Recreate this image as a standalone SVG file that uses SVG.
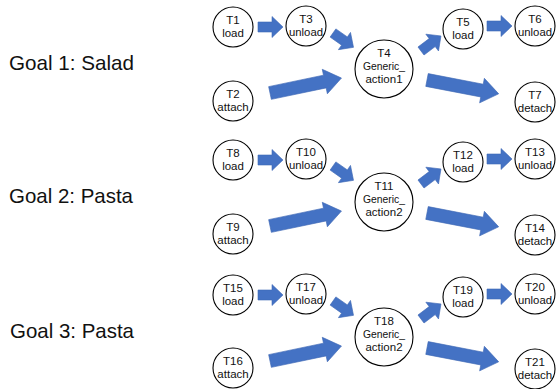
<svg xmlns="http://www.w3.org/2000/svg" xmlns:xlink="http://www.w3.org/1999/xlink" width="556" height="389" viewBox="0 0 556 389">
<style>
.node circle{fill:#fff;stroke:#000;stroke-width:1.1}
.node text{font-family:"Liberation Sans",Arial,sans-serif;font-size:11.5px;fill:#111;text-anchor:middle}
.goal{font-family:"Liberation Sans",Arial,sans-serif;font-size:21px;fill:#111}
.arr{fill:#4472C4;stroke:#3E68B5;stroke-width:0.6}
</style>
<defs>
<path id="sa" class="arr" d="M0,-5 H14 V-10.5 L25,0 L14,10.5 V5 H0 Z"/>
<path id="la" class="arr" d="M0,-6.5 H56 V-12.5 L73,0 L56,12.5 V6.5 H0 Z"/>
</defs>
<rect width="556" height="389" fill="#fff"/>

<g id="labels">
<text class="goal" x="9" y="70" textLength="125" lengthAdjust="spacingAndGlyphs">Goal 1: Salad</text>
<text class="goal" x="9" y="203" textLength="124" lengthAdjust="spacingAndGlyphs">Goal 2: Pasta</text>
<text class="goal" x="10" y="338" textLength="124" lengthAdjust="spacingAndGlyphs">Goal 3: Pasta</text>
</g>

<g id="connectors">
<g id="row1-connectors">
<use xlink:href="#sa" transform="translate(258,27)"/>
<use xlink:href="#sa" transform="translate(333,33) rotate(35)"/>
<use xlink:href="#la" transform="translate(270,93) rotate(-11.8)"/>
<use xlink:href="#sa" transform="translate(421,51) rotate(-37)"/>
<use xlink:href="#sa" transform="translate(487,26)"/>
<use xlink:href="#la" transform="translate(427,80) rotate(10.9)"/>
</g>
<g id="row2-connectors" transform="translate(0,133)">
<use xlink:href="#sa" transform="translate(258,27)"/>
<use xlink:href="#sa" transform="translate(333,33) rotate(35)"/>
<use xlink:href="#la" transform="translate(270,93) rotate(-11.8)"/>
<use xlink:href="#sa" transform="translate(421,51) rotate(-37)"/>
<use xlink:href="#sa" transform="translate(487,26)"/>
<use xlink:href="#la" transform="translate(427,80) rotate(10.9)"/>
</g>
<g id="row3-connectors" transform="translate(0,268)">
<use xlink:href="#sa" transform="translate(258,27)"/>
<use xlink:href="#sa" transform="translate(333,33) rotate(35)"/>
<use xlink:href="#la" transform="translate(270,93) rotate(-11.8)"/>
<use xlink:href="#sa" transform="translate(421,51) rotate(-37)"/>
<use xlink:href="#sa" transform="translate(487,26)"/>
<use xlink:href="#la" transform="translate(427,80) rotate(10.9)"/>
</g>
</g>

<g id="T1" class="node" transform="translate(233,27)"><circle r="20"/><text><tspan x="0" y="-3">T1</tspan><tspan x="0" y="10">load</tspan></text></g>
<g id="T3" class="node" transform="translate(306,26)"><circle r="20"/><text><tspan x="0" y="-3">T3</tspan><tspan x="0" y="10" textLength="34" lengthAdjust="spacingAndGlyphs">unload</tspan></text></g>
<g id="T2" class="node" transform="translate(233,101)"><circle r="20"/><text><tspan x="0" y="-3">T2</tspan><tspan x="0" y="10">attach</tspan></text></g>
<g id="T4" class="node" transform="translate(384,69)"><circle r="29"/><text><tspan x="0" y="-12">T4</tspan><tspan x="0" y="1" textLength="42" lengthAdjust="spacingAndGlyphs">Generic_</tspan><tspan x="0" y="14">action1</tspan></text></g>
<g id="T5" class="node" transform="translate(463,29)"><circle r="20"/><text><tspan x="0" y="-3">T5</tspan><tspan x="0" y="10">load</tspan></text></g>
<g id="T6" class="node" transform="translate(535,26)"><circle r="20"/><text><tspan x="0" y="-3">T6</tspan><tspan x="0" y="10" textLength="34" lengthAdjust="spacingAndGlyphs">unload</tspan></text></g>
<g id="T7" class="node" transform="translate(535,102)"><circle r="20"/><text><tspan x="0" y="-3">T7</tspan><tspan x="0" y="10">detach</tspan></text></g>

<g id="T8" class="node" transform="translate(233,160)"><circle r="20"/><text><tspan x="0" y="-3">T8</tspan><tspan x="0" y="10">load</tspan></text></g>
<g id="T10" class="node" transform="translate(306,159)"><circle r="20"/><text><tspan x="0" y="-3">T10</tspan><tspan x="0" y="10" textLength="34" lengthAdjust="spacingAndGlyphs">unload</tspan></text></g>
<g id="T9" class="node" transform="translate(233,234)"><circle r="20"/><text><tspan x="0" y="-3">T9</tspan><tspan x="0" y="10">attach</tspan></text></g>
<g id="T11" class="node" transform="translate(384,202)"><circle r="29"/><text><tspan x="0" y="-12">T11</tspan><tspan x="0" y="1" textLength="42" lengthAdjust="spacingAndGlyphs">Generic_</tspan><tspan x="0" y="14">action2</tspan></text></g>
<g id="T12" class="node" transform="translate(463,162)"><circle r="20"/><text><tspan x="0" y="-3">T12</tspan><tspan x="0" y="10">load</tspan></text></g>
<g id="T13" class="node" transform="translate(535,159)"><circle r="20"/><text><tspan x="0" y="-3">T13</tspan><tspan x="0" y="10" textLength="34" lengthAdjust="spacingAndGlyphs">unload</tspan></text></g>
<g id="T14" class="node" transform="translate(535,235)"><circle r="20"/><text><tspan x="0" y="-3">T14</tspan><tspan x="0" y="10">detach</tspan></text></g>

<g id="T15" class="node" transform="translate(233,295)"><circle r="20"/><text><tspan x="0" y="-3">T15</tspan><tspan x="0" y="10">load</tspan></text></g>
<g id="T17" class="node" transform="translate(306,294)"><circle r="20"/><text><tspan x="0" y="-3">T17</tspan><tspan x="0" y="10" textLength="34" lengthAdjust="spacingAndGlyphs">unload</tspan></text></g>
<g id="T16" class="node" transform="translate(233,368)"><circle r="20"/><text><tspan x="0" y="-3">T16</tspan><tspan x="0" y="10">attach</tspan></text></g>
<g id="T18" class="node" transform="translate(384,337)"><circle r="29"/><text><tspan x="0" y="-12">T18</tspan><tspan x="0" y="1" textLength="42" lengthAdjust="spacingAndGlyphs">Generic_</tspan><tspan x="0" y="14">action2</tspan></text></g>
<g id="T19" class="node" transform="translate(463,297)"><circle r="20"/><text><tspan x="0" y="-3">T19</tspan><tspan x="0" y="10">load</tspan></text></g>
<g id="T20" class="node" transform="translate(535,294)"><circle r="20"/><text><tspan x="0" y="-3">T20</tspan><tspan x="0" y="10" textLength="34" lengthAdjust="spacingAndGlyphs">unload</tspan></text></g>
<g id="T21" class="node" transform="translate(535,369)"><circle r="20"/><text><tspan x="0" y="-3">T21</tspan><tspan x="0" y="10">detach</tspan></text></g>
</svg>
